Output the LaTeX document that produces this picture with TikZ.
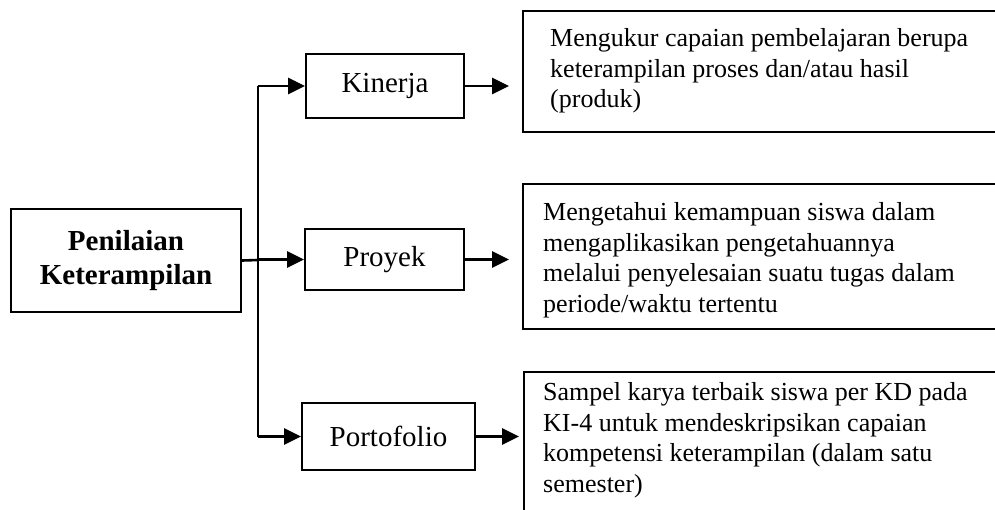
\documentclass[tikz,border=0pt]{standalone}
\usepackage{fontspec}
\setmainfont{Liberation Serif}
\usetikzlibrary{arrows.meta}
\begin{document}
\begin{tikzpicture}[x=1pt,y=-1pt,
  box/.style={draw, line width=2pt, inner sep=0pt, rectangle},
  lbl/.style={box, font=\fontsize{29}{33}\selectfont},
  dtext/.style={anchor=north west, inner sep=0pt, align=left, font=\fontsize{26}{30.8}\selectfont},
  arr/.style={line width=2.8pt, -{Triangle[length=17pt,width=16pt]}},
  ln/.style={line width=2.6pt}]
\useasboundingbox (0,0) rectangle (995,509);
\clip (0,0) rectangle (995,509);
% main box
\node[box, minimum width=230pt, minimum height=103pt, align=center,
      font=\fontsize{29}{34}\selectfont\bfseries] (main) at (126,260.5) {Penilaian\\Keterampilan};
% labels
\node[lbl, minimum width=158pt, minimum height=64pt] (kin) at (385,86) {Kinerja};
\node[lbl, minimum width=159pt, minimum height=61pt] (pro) at (384.5,259.5) {Proyek};
\node[lbl, minimum width=173pt, minimum height=67pt] (por) at (388.5,436.5) {Portofolio};
% description boxes
\node[box, minimum width=487pt, minimum height=121pt] (kind) at (766.5,71.5) {};
\node[box, minimum width=487pt, minimum height=145pt] (prod) at (766.5,256.5) {};
\node[box, minimum width=486pt, minimum height=158pt] (pord) at (767,451) {};
% description texts
\node[dtext] (kindt) at (550,28) {Mengukur capaian pembelajaran berupa\\keterampilan proses dan/atau hasil\\(produk)};
\node[dtext] (prodt) at (543,202) {Mengetahui kemampuan siswa dalam\\mengaplikasikan pengetahuannya\\melalui penyelesaian suatu tugas dalam\\periode/waktu tertentu};
\node[dtext] (pordt) at (543,382) {Sampel karya terbaik siswa per KD pada\\KI-4 untuk mendeskripsikan capaian\\kompetensi keterampilan (dalam satu\\semester)};
% trunk
\coordinate (trunk) at (258,260);
\draw[ln] (main.east) -- (trunk);
\draw[ln] (trunk |- kin.west) -- (trunk |- por.west);
\draw[arr] (trunk |- kin.west) -- (kin.west);
\draw[arr] (trunk |- pro.west) -- (pro.west);
\draw[arr] (trunk |- por.west) -- (por.west);
% out arrows
\draw[arr, shorten >=13pt] (kin.east) -- (kin.east -| kind.west);
\draw[arr, shorten >=13pt] (pro.east) -- (pro.east -| prod.west);
\draw[arr, shorten >=4pt] (por.east) -- (por.east -| pord.west);
\end{tikzpicture}
\end{document}
